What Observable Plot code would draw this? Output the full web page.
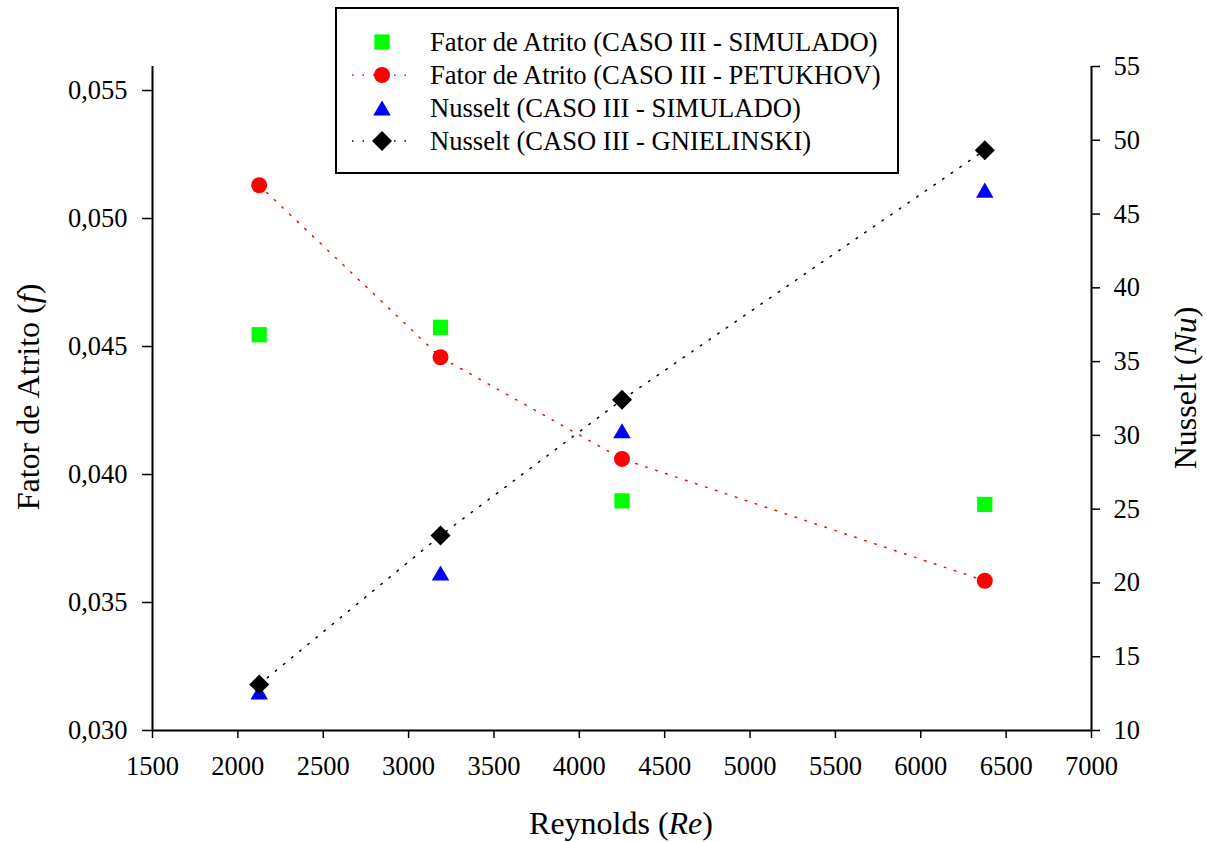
<!DOCTYPE html>
<html><head><meta charset="utf-8">
<script src="https://cdn.jsdelivr.net/npm/d3@7"></script>
<script src="https://cdn.jsdelivr.net/npm/@observablehq/plot@0.6"></script>
<style>
body{margin:0;background:#fff}
#wrap{position:relative;width:1207px;height:842px}
</style></head><body><div id="wrap"></div>
<script>
// ---- data ----
const reynolds = [2125, 3187, 4250, 6375];
const fSimulado = [0.04546, 0.04575, 0.03897, 0.03883];
const fPetukhov = [0.05130, 0.04458, 0.04061, 0.03585];
const nuSimulado = [12.61, 20.67, 30.31, 46.62];
const nuGnielinski = [13.12, 23.21, 32.41, 49.33];
const xTicks = [1500, 2000, 2500, 3000, 3500, 4000, 4500, 5000, 5500, 6000, 6500, 7000];
const fTicks = [0.030, 0.035, 0.040, 0.045, 0.050, 0.055];
const nuTicks = [10, 15, 20, 25, 30, 35, 40, 45, 50, 55];
const seriesNames = [
  "Fator de Atrito (CASO III - SIMULADO)",
  "Fator de Atrito (CASO III - PETUKHOV)",
  "Nusselt (CASO III - SIMULADO)",
  "Nusselt (CASO III - GNIELINSKI)"
];

// ---- scales (dual axis) ----
const fMin = 0.030, fMax = 0.055938;
const nuMin = 10, nuMax = 55;
const toF = nu => fMin + (nu - nuMin) / (nuMax - nuMin) * (fMax - fMin);
const toNu = f => nuMin + (f - fMin) / (fMax - fMin) * (nuMax - nuMin);

const dSimF = reynolds.map((re, i) => ({re, v: fSimulado[i]}));
const dPetF = reynolds.map((re, i) => ({re, v: fPetukhov[i]}));
const dSimNu = reynolds.map((re, i) => ({re, v: toF(nuSimulado[i])}));
const dGniNu = reynolds.map((re, i) => ({re, v: toF(nuGnielinski[i])}));

const FONT = "'Liberation Serif', 'Times New Roman', serif";

const chart = Plot.plot({
  width: 1207, height: 842,
  marginLeft: 152, marginRight: 116, marginTop: 66, marginBottom: 112,
  style: {fontFamily: FONT, fontSize: "26.5px", color: "#000", background: "#fff", overflow: "visible"},
  x: {domain: [1500, 7000]},
  y: {domain: [fMin, fMax]},
  marks: [
    Plot.axisX({ticks: xTicks, tickSize: 8, tickPadding: 18, tickFormat: d => String(d), label: null, strokeWidth: 1.5}),
    Plot.axisY({ticks: fTicks, tickSize: 10, tickPadding: 15, tickFormat: d => d.toFixed(3).replace(".", ","), label: null, strokeWidth: 1.5}),
    Plot.axisY({anchor: "right", ticks: nuTicks.map(toF), tickSize: 8, tickPadding: 14, tickFormat: v => String(Math.round(toNu(v))), label: null, strokeWidth: 1.5}),
    Plot.ruleX([1500, 7000], {stroke: "#000", strokeWidth: 2}),
    Plot.ruleY([fMin], {stroke: "#000", strokeWidth: 2}),
    Plot.line(dPetF, {x: "re", y: "v", stroke: "#ff0000", strokeWidth: 1.5, strokeDasharray: "1.5,9"}),
    Plot.line(dGniNu, {x: "re", y: "v", stroke: "#000", strokeWidth: 1.5, strokeDasharray: "1.5,9"}),
    Plot.dot(dSimF, {x: "re", y: "v", symbol: "square", r: 8.6, fill: "#00ff00", stroke: "none"}),
    Plot.dot(dPetF, {x: "re", y: "v", symbol: "circle", r: 8, fill: "#ff0000", stroke: "none"}),
    Plot.dot(dSimNu, {x: "re", y: "v", symbol: "triangle", r: 6.5, dy: 2.5, fill: "#0000ff", stroke: "none"}),
    Plot.dot(dGniNu, {x: "re", y: "v", symbol: "diamond2", r: 9, fill: "#000", stroke: "none"})
  ]
});

document.getElementById("wrap").appendChild(chart);

const svg = d3.select(chart);

// axis titles with italic parts
function title(x, y, rot, plain, ital) {
  const t = svg.append("text")
    .attr("transform", `translate(${x},${y}) rotate(${rot})`)
    .attr("text-anchor", "middle").attr("dy", "0.35em")
    .attr("font-family", FONT).attr("font-size", 32).attr("fill", "#000");
  t.append("tspan").text(plain + " (");
  t.append("tspan").attr("font-style", "italic").text(ital);
  t.append("tspan").text(")");
}
title(621, 823, 0, "Reynolds", "Re");
title(28, 397, -90, "Fator de Atrito", "f");
title(1185, 388, -90, "Nusselt", "Nu");

// legend
const lg = svg.append("g");
lg.append("rect").attr("x", 336).attr("y", 8).attr("width", 562).attr("height", 165)
  .attr("fill", "#fff").attr("stroke", "#000").attr("stroke-width", 2);
const rows = [
  {sym: d3.symbolSquare, size: Math.PI * 8.6 * 8.6, fill: "#00ff00", line: null, dy: 0},
  {sym: d3.symbolCircle, size: Math.PI * 8 * 8, fill: "#ff0000", line: "#ff0000", dy: 0},
  {sym: d3.symbolTriangle, size: Math.PI * 6.5 * 6.5, fill: "#0000ff", line: null, dy: 2.5},
  {sym: d3.symbolDiamond2, size: Math.PI * 9 * 9, fill: "#000", line: "#000", dy: 0}
];
rows.forEach((r, i) => {
  const y = 42 + i * 33;
  if (r.line) lg.append("line").attr("x1", 352).attr("x2", 414).attr("y1", y).attr("y2", y)
    .attr("stroke", r.line).attr("stroke-width", 1.5).attr("stroke-dasharray", "1.5,9");
  lg.append("path").attr("d", d3.symbol(r.sym, r.size)()).attr("transform", `translate(382,${y + r.dy})`).attr("fill", r.fill);
  lg.append("text").attr("x", 430).attr("y", y).attr("dy", "0.35em").attr("text-anchor", "start")
    .attr("font-family", FONT).attr("font-size", 26.6).attr("fill", "#000").text(seriesNames[i]);
});
</script></body></html>
